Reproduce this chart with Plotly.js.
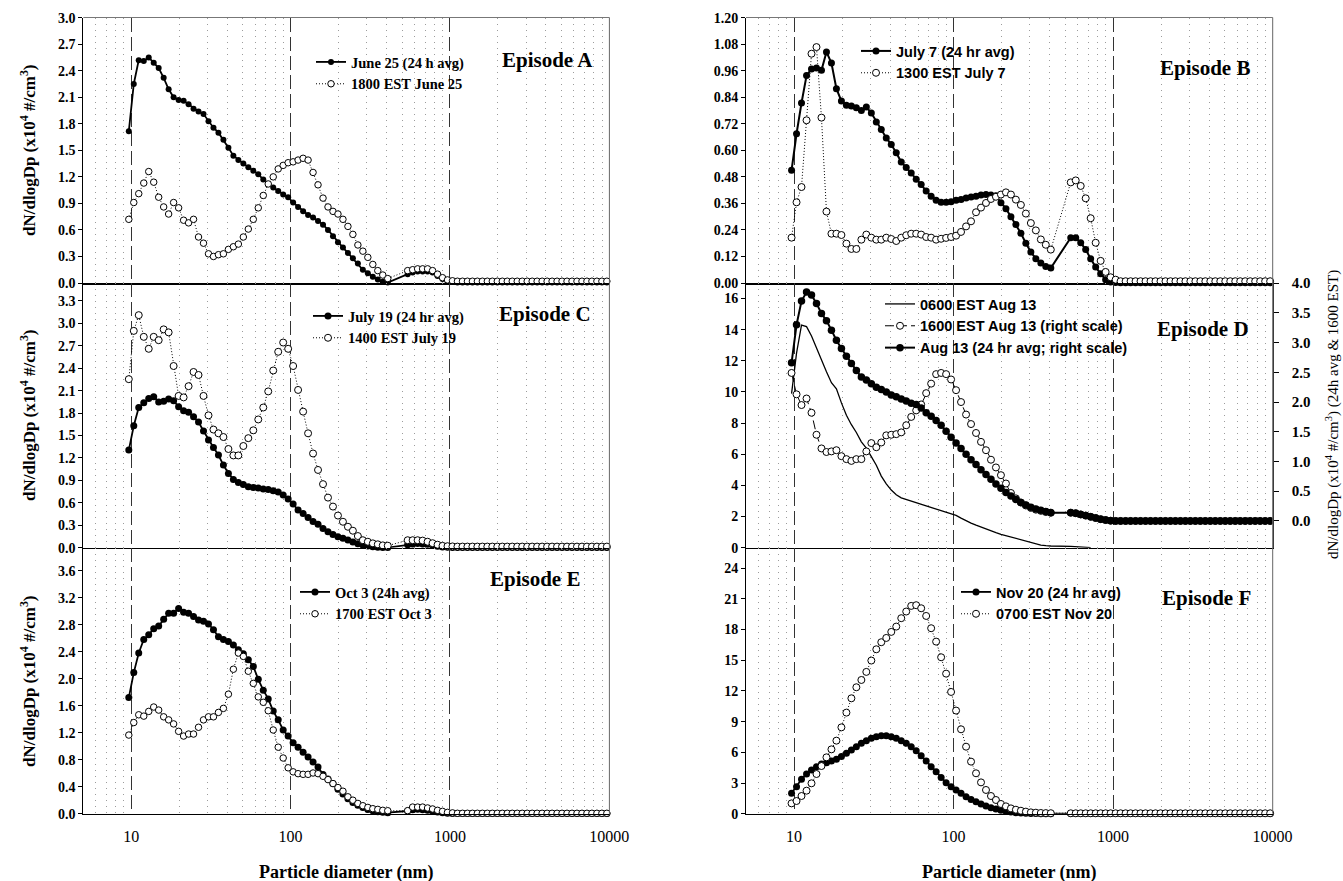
<!DOCTYPE html>
<html><head><meta charset="utf-8">
<script src="https://cdn.plot.ly/plotly-3.0.1.min.js"></script>
<style>html,body{margin:0;padding:0;background:#fff}#chart{width:1343px;height:881px}</style>
</head><body><div id="chart"></div>
<script>
// ---------- particle diameters (nm) ----------
const diamSmps = [9.65,10.37,11.14,11.98,12.87,13.83,14.86,15.97,17.16,18.44,
  19.82,21.30,22.89,24.59,26.43,28.40,30.52,32.80,35.24,37.87,
  40.70,43.73,47.00,50.50,54.27,58.32,62.67,67.35,72.37,77.77,
  83.58,89.81,96.50,103.7,111.4,119.8,128.7,138.3,148.6,159.7,
  171.6,184.4,198.2,213.0,228.9,245.9,264.3,284.0,305.2,328.0,
  352.4,378.7,407.0];
const diamOpc = [542.7,583.2,626.7,673.4,723.7,777.7,835.7,898.0,965.0,1037,
  1114,1198,1287,1383,1486,1597,1716,1844,1982,2130,
  2289,2459,2643,2840,3052,3280,3524,3787,4070,4373,
  4700,5050,5427,5832,6267,6735,7237,7777,8358,8981,
  9650];

// ---------- Episode A ----------
const aAvgSmps = [1.715,2.25,2.52,2.51,2.55,2.49,2.43,2.32,2.19,2.10,
  2.07,2.06,2.02,1.97,1.94,1.91,1.83,1.756,1.70,1.62,
  1.53,1.44,1.39,1.35,1.31,1.27,1.23,1.17,1.12,1.08,
  1.04,1.00,0.97,0.91,0.86,0.81,0.77,0.74,0.70,0.66,
  0.60,0.53,0.46,0.40,0.34,0.28,0.22,0.15,0.11,0.07,
  0.04,0.015,0.005];
const aAvgOpc = [0.10,0.12,0.13,0.13,0.13,0.12,0.08,0.045,0.02,0.01,
  0.005,0.005,0.005,0.005,0.005,0.005,0.005,0.005,0.005,0.005,
  0.005,0.005,0.005,0.005,0.005,0.005,0.005,0.005,0.005,0.005,
  0.005,0.005,0.005,0.005,0.005,0.005,0.005,0.005,0.005,0.005,
  0.005];
const aHrSmps = [0.72,0.91,1.01,1.13,1.26,1.14,0.97,0.86,0.78,0.91,
  0.85,0.71,0.68,0.72,0.52,0.45,0.33,0.30,0.32,0.33,
  0.38,0.41,0.44,0.52,0.61,0.72,0.85,0.99,1.12,1.20,
  1.29,1.33,1.36,1.37,1.39,1.41,1.39,1.25,1.11,0.96,
  0.86,0.81,0.78,0.72,0.64,0.55,0.43,0.36,0.29,0.21,
  0.14,0.09,0.05];
const aHrOpc = [0.14,0.15,0.16,0.16,0.16,0.14,0.10,0.06,0.035,0.025,
  0.02,0.02,0.02,0.02,0.02,0.02,0.02,0.02,0.02,0.02,
  0.02,0.02,0.02,0.02,0.02,0.02,0.02,0.02,0.02,0.02,
  0.02,0.02,0.02,0.02,0.02,0.02,0.02,0.02,0.02,0.02,
  0.02];

// ---------- Episode B ----------
const bAvgSmps = [0.51,0.675,0.814,0.938,0.968,0.972,0.962,1.045,0.995,0.879,
  0.823,0.804,0.80,0.793,0.78,0.796,0.769,0.728,0.694,0.656,
  0.626,0.589,0.547,0.522,0.497,0.469,0.445,0.416,0.392,0.374,
  0.365,0.365,0.368,0.374,0.378,0.384,0.389,0.392,0.398,0.40,
  0.398,0.395,0.363,0.336,0.30,0.265,0.225,0.18,0.14,0.11,
  0.09,0.075,0.068];
const bAvgOpc = [0.205,0.205,0.182,0.151,0.11,0.072,0.042,0.015,0.005,0.002,
  0.001,0.001,0.001,0.001,0.001,0.001,0.001,0.001,0.001,0.001,
  0.001,0.001,0.001,0.001,0.001,0.001,0.001,0.001,0.001,0.001,
  0.001,0.001,0.001,0.001,0.001,0.001,0.001,0.001,0.001,0.001,
  0.001];
const bHrSmps = [0.205,0.365,0.434,0.736,1.037,1.067,0.748,0.323,0.223,0.223,
  0.217,0.178,0.154,0.154,0.196,0.219,0.205,0.196,0.196,0.205,
  0.199,0.19,0.205,0.216,0.223,0.223,0.219,0.208,0.205,0.196,
  0.20,0.204,0.208,0.214,0.231,0.256,0.279,0.32,0.341,0.362,
  0.38,0.39,0.40,0.41,0.40,0.377,0.353,0.314,0.271,0.238,
  0.197,0.173,0.151];
const bHrOpc = [0.455,0.464,0.439,0.383,0.293,0.182,0.10,0.05,0.026,0.015,
  0.008,0.008,0.008,0.008,0.008,0.008,0.008,0.008,0.008,0.008,
  0.008,0.008,0.008,0.008,0.008,0.008,0.008,0.008,0.008,0.008,
  0.008,0.008,0.008,0.008,0.008,0.008,0.008,0.008,0.008,0.008,
  0.008];

// ---------- Episode C ----------
const cAvgSmps = [1.305,1.63,1.875,1.94,1.996,2.02,1.95,1.96,1.99,1.965,
  1.885,1.83,1.81,1.75,1.68,1.56,1.44,1.34,1.24,1.105,
  0.993,0.913,0.873,0.846,0.815,0.806,0.797,0.784,0.78,0.762,
  0.744,0.704,0.65,0.584,0.503,0.459,0.405,0.352,0.312,0.258,
  0.214,0.178,0.147,0.125,0.102,0.076,0.053,0.036,0.022,0.013,
  0.005,0.003,0.002];
const cAvgOpc = [0.04,0.05,0.055,0.05,0.045,0.035,0.02,0.01,0.005,0.003,
  0.002,0.002,0.002,0.002,0.002,0.002,0.002,0.002,0.002,0.002,
  0.002,0.002,0.002,0.002,0.002,0.002,0.002,0.002,0.002,0.002,
  0.002,0.002,0.002,0.002,0.002,0.002,0.002,0.002,0.002,0.002,
  0.002];
const cHrSmps = [2.254,2.90,3.11,2.82,2.66,2.82,2.775,2.92,2.88,2.43,
  2.03,2.01,2.16,2.35,2.31,2.03,1.77,1.58,1.53,1.48,
  1.32,1.234,1.234,1.36,1.465,1.57,1.715,1.875,2.09,2.37,
  2.62,2.744,2.66,2.43,2.11,1.82,1.53,1.26,1.04,0.85,
  0.67,0.55,0.43,0.347,0.28,0.227,0.156,0.10,0.08,0.058,
  0.045,0.031,0.027];
const cHrOpc = [0.10,0.10,0.10,0.095,0.08,0.06,0.04,0.025,0.02,0.017,
  0.015,0.015,0.015,0.015,0.015,0.015,0.015,0.015,0.015,0.015,
  0.015,0.015,0.015,0.015,0.015,0.015,0.015,0.015,0.015,0.015,
  0.015,0.015,0.015,0.015,0.015,0.015,0.015,0.015,0.015,0.015,
  0.015];

// ---------- Episode D ----------
const d0600 = [9.9,12.5,14.3,14.2,13.6,12.8,12.0,11.3,10.6,10.2,
  9.3,8.5,7.9,7.4,6.8,6.4,5.85,5.3,4.6,4.1,
  3.7,3.4,3.2,3.1,3.0,2.92,2.82,2.72,2.62,2.50,
  2.39,2.27,2.17,2.07,1.90,1.73,1.58,1.45,1.32,1.20,
  1.08,0.97,0.86,0.77,0.69,0.60,0.50,0.40,0.31,0.23,
  0.17,0.13,0.11,
  0.08,0.06,0.04,0.02,0.01];
const d1600Smps = [2.49,2.13,1.95,2.06,1.82,1.45,1.22,1.16,1.17,1.19,
  1.09,1.04,1.01,1.04,1.04,1.17,1.31,1.24,1.32,1.44,
  1.45,1.46,1.49,1.61,1.75,1.86,1.96,2.15,2.31,2.47,
  2.49,2.47,2.38,2.20,2.00,1.79,1.63,1.48,1.33,1.19,
  1.03,0.90,0.77,0.63,0.47,0.38,0.31,0.26,0.22,0.19,
  0.17,0.15,0.14];
const d1600Opc = [0.14,0.13,0.11,0.09,0.07,0.05,0.03,0.015,0.005,0.0,
  0,0,0,0,0,0,0,0,0,0,
  0,0,0,0,0,0,0,0,0,0,
  0,0,0,0,0,0,0,0,0,0,
  0];
const dAvgSmps = [2.66,3.30,3.70,3.85,3.80,3.66,3.49,3.37,3.21,3.04,
  2.90,2.77,2.65,2.53,2.42,2.37,2.31,2.25,2.21,2.17,
  2.12,2.09,2.05,2.02,1.98,1.96,1.90,1.82,1.76,1.69,
  1.61,1.51,1.41,1.31,1.22,1.12,1.03,0.95,0.86,0.78,
  0.70,0.62,0.55,0.48,0.42,0.36,0.31,0.27,0.23,0.20,
  0.18,0.16,0.14];
const dAvgOpc = [0.14,0.13,0.11,0.09,0.07,0.05,0.03,0.015,0.005,0.0,
  0,0,0,0,0,0,0,0,0,0,
  0,0,0,0,0,0,0,0,0,0,
  0,0,0,0,0,0,0,0,0,0,
  0];

// ---------- Episode E ----------
const eAvgSmps = [1.72,2.09,2.38,2.58,2.65,2.74,2.78,2.88,2.97,2.97,
  3.04,2.985,2.97,2.92,2.87,2.85,2.81,2.725,2.62,2.58,
  2.55,2.50,2.43,2.37,2.28,2.18,1.99,1.83,1.70,1.52,
  1.39,1.24,1.15,1.05,0.985,0.91,0.84,0.765,0.69,0.58,
  0.515,0.446,0.363,0.29,0.22,0.167,0.127,0.093,0.064,0.044,
  0.03,0.02,0.015];
const eAvgOpc = [0.04,0.06,0.065,0.06,0.05,0.04,0.025,0.015,0.008,0.004,
  0.002,0.002,0.002,0.002,0.002,0.002,0.002,0.002,0.002,0.002,
  0.002,0.002,0.002,0.002,0.002,0.002,0.002,0.002,0.002,0.002,
  0.002,0.002,0.002,0.002,0.002,0.002,0.002,0.002,0.002,0.002,
  0.002];
const eHrSmps = [1.165,1.35,1.465,1.445,1.515,1.58,1.535,1.435,1.39,1.33,
  1.22,1.15,1.18,1.18,1.28,1.39,1.435,1.435,1.50,1.56,
  1.77,2.14,2.38,2.33,2.11,1.93,1.73,1.65,1.525,1.24,
  0.985,0.825,0.68,0.62,0.593,0.583,0.583,0.603,0.593,0.554,
  0.505,0.446,0.387,0.333,0.25,0.20,0.152,0.118,0.093,0.074,
  0.064,0.05,0.044];
const eHrOpc = [0.045,0.098,0.098,0.098,0.085,0.07,0.05,0.035,0.02,0.012,
  0.006,0.006,0.006,0.006,0.006,0.006,0.006,0.006,0.006,0.006,
  0.006,0.006,0.006,0.006,0.006,0.006,0.006,0.006,0.006,0.006,
  0.006,0.006,0.006,0.006,0.006,0.006,0.006,0.006,0.006,0.006,
  0.006];

// ---------- Episode F ----------
const fAvgSmps = [1.99,2.64,3.36,3.88,4.27,4.60,4.86,4.99,5.15,5.31,
  5.58,5.90,6.23,6.55,6.88,7.14,7.37,7.53,7.63,7.63,
  7.53,7.37,7.14,6.88,6.55,6.16,5.67,5.15,4.60,4.11,
  3.55,3.03,2.64,2.32,1.99,1.66,1.40,1.17,0.95,0.75,
  0.59,0.46,0.33,0.23,0.16,0.10,0.07,0.04,0.02,0.01,
  0.005,0.003,0.002];
const fAvgOpc = [0.01,0.01,0.01,0.01,0.01,0.01,0.01,0.01,0.01,0.01,
  0.01,0.01,0.01,0.01,0.01,0.01,0.01,0.01,0.01,0.01,
  0.01,0.01,0.01,0.01,0.01,0.01,0.01,0.01,0.01,0.01,
  0.01,0.01,0.01,0.01,0.01,0.01,0.01,0.01,0.01,0.01,
  0.01];
const fHrSmps = [1.01,1.24,1.73,2.25,2.97,3.88,4.66,5.51,6.29,7.14,
  8.44,9.88,11.28,12.36,13.07,13.86,14.97,16.07,16.76,17.18,
  17.77,18.29,19.11,19.76,20.31,20.38,20.08,19.33,18.13,16.82,
  15.29,13.69,11.90,10.08,8.25,6.55,5.09,3.95,3.06,2.32,
  1.73,1.34,0.95,0.72,0.52,0.39,0.29,0.20,0.13,0.10,
  0.07,0.06,0.05];
const fHrOpc = [0.04,0.04,0.04,0.04,0.04,0.04,0.04,0.04,0.04,0.04,
  0.04,0.04,0.04,0.04,0.04,0.04,0.04,0.04,0.04,0.04,
  0.04,0.04,0.04,0.04,0.04,0.04,0.04,0.04,0.04,0.04,
  0.04,0.04,0.04,0.04,0.04,0.04,0.04,0.04,0.04,0.04,
  0.04];

// ---------- tick labels ----------
const xTickVals = [10,100,1000,10000];
const xTickText = ['10','100','1000','10000'];
const xMinorVals = [6,7,8,9,20,30,40,50,60,70,80,90,200,300,400,500,600,700,800,900,
  2000,3000,4000,5000,6000,7000,8000,9000];
const yTicksA = [0,0.3,0.6,0.9,1.2,1.5,1.8,2.1,2.4,2.7,3.0];
const yTicksB = [0,0.12,0.24,0.36,0.48,0.60,0.72,0.84,0.96,1.08,1.20];
const yTicksC = [0,0.3,0.6,0.9,1.2,1.5,1.8,2.1,2.4,2.7,3.0,3.3];
const yTicksD = [0,2,4,6,8,10,12,14,16];
const yTicksDR = [0,0.5,1.0,1.5,2.0,2.5,3.0,3.5,4.0];
const yTicksE = [0,0.4,0.8,1.2,1.6,2.0,2.4,2.8,3.2,3.6];
const yTicksF = [0,3,6,9,12,15,18,21,24];

// ---------- build ----------
const W = 1343, H = 881;
const px = v => v / W, py = v => 1 - v / H;
const serif = '"Liberation Serif", "Times New Roman", Times, serif';
const sans = '"Liberation Sans", Arial, Helvetica, sans-serif';
const diam = diamSmps.concat(diamOpc);
const colL = [px(83.3), px(609.4)], colR = [px(746), px(1272.7)];
const rowTop = [py(283), py(17.5)], rowMid = [py(547.7), py(283)], rowBot = [py(813.7), py(547.7)];

function avgTrace(y, name, xa, ya, leg, size, lw) {
  return {x: diam, y: y, name: name, xaxis: xa, yaxis: ya, legend: leg, type: 'scatter',
    mode: 'lines+markers', cliponaxis: false,
    line: {color: 'black', width: lw},
    marker: {color: 'black', size: size, symbol: 'circle', line: {width: 0}}};
}
function hrTrace(y, name, xa, ya, leg, size, dash) {
  return {x: diam, y: y, name: name, xaxis: xa, yaxis: ya, legend: leg, type: 'scatter',
    mode: 'lines+markers', cliponaxis: false,
    line: {color: 'black', width: 1, dash: dash || '1px,2px'},
    marker: {color: 'white', size: size, symbol: 'circle', line: {color: 'black', width: 1}}};
}

const traces = [
  avgTrace(aAvgSmps.concat(aAvgOpc), 'June 25 (24 h avg)', 'x', 'y', 'legend', 6, 1.8),
  hrTrace(aHrSmps.concat(aHrOpc), '1800 EST June 25', 'x', 'y', 'legend', 6.5),
  avgTrace(bAvgSmps.concat(bAvgOpc), 'July 7 (24 hr avg)', 'x2', 'y2', 'legend2', 7, 2),
  hrTrace(bHrSmps.concat(bHrOpc), '1300 EST July 7', 'x2', 'y2', 'legend2', 7),
  avgTrace(cAvgSmps.concat(cAvgOpc), 'July 19 (24 hr avg)', 'x3', 'y3', 'legend3', 7, 1.8),
  hrTrace(cHrSmps.concat(cHrOpc), '1400 EST July 19', 'x3', 'y3', 'legend3', 7),
  {x: diam.slice(0, d0600.length), y: d0600, name: '0600 EST Aug 13', xaxis: 'x4', yaxis: 'y4',
    legend: 'legend4', type: 'scatter', mode: 'lines', cliponaxis: false,
    line: {color: 'black', width: 1.3}},
  hrTrace(d1600Smps.concat(d1600Opc), '1600 EST Aug 13 (right scale)', 'x4', 'y7', 'legend4', 7, '9px,4px'),
  avgTrace(dAvgSmps.concat(dAvgOpc), 'Aug 13 (24 hr avg; right scale)', 'x4', 'y7', 'legend4', 7.5, 2),
  avgTrace(eAvgSmps.concat(eAvgOpc), 'Oct 3 (24h avg)', 'x5', 'y5', 'legend5', 7, 1.8),
  hrTrace(eHrSmps.concat(eHrOpc), '1700 EST Oct 3', 'x5', 'y5', 'legend5', 6.5),
  avgTrace(fAvgSmps.concat(fAvgOpc), 'Nov 20 (24 hr avg)', 'x6', 'y6', 'legend6', 7, 1.8),
  hrTrace(fHrSmps.concat(fHrOpc), '0700 EST Nov 20', 'x6', 'y6', 'legend6', 7)
];

function xAxis(dom, anchor, labels) {
  return {type: 'log', domain: dom, anchor: anchor, range: [Math.log10(5), 4.0005],
    tickmode: 'array', tickvals: xTickVals, ticktext: xTickText,
    showticklabels: labels, ticks: '', ticklabelstandoff: 8,
    tickfont: {family: serif, size: 16, color: 'black'},
    showgrid: true, gridcolor: '#333', gridwidth: 1, griddash: '14px,5px',
    minor: {tickmode: 'array', tickvals: xMinorVals, showgrid: true, gridcolor: '#9c9c9c',
      gridwidth: 1, griddash: '1px,5px', ticks: ''},
    showline: true, linecolor: 'black', linewidth: 1.5, zeroline: false, fixedrange: true};
}
function yAxis(dom, anchor, range, vals, fmt) {
  return {domain: dom, anchor: anchor, range: range, tickmode: 'array', tickvals: vals,
    tickformat: fmt, showgrid: false, zeroline: false, showline: true, linecolor: 'black',
    linewidth: 1, ticks: 'outside', ticklen: 4, tickcolor: 'black', tickwidth: 1,
    tickfont: {family: serif, size: 14, weight: 'bold', color: 'black'}, fixedrange: true};
}

const legBase = (x, y, fam, size) => ({x: px(x), y: py(y), xanchor: 'left', yanchor: 'top',
  bgcolor: 'rgba(0,0,0,0)', borderwidth: 0, tracegroupgap: 0,
  font: {family: fam, size: size, weight: 'bold', color: 'black'}});

const yTitle = 'dN/dlogDp (x10<sup>4</sup> #/cm<sup>3</sup>)';
function ann(text, x, y, font, extra) {
  return Object.assign({text: text, x: px(x), y: py(y), xref: 'paper', yref: 'paper',
    showarrow: false, xanchor: 'center', yanchor: 'middle', font: font}, extra || {});
}
const epFont = {family: serif, size: 21, weight: 'bold', color: 'black'};

const layout = {
  width: W, height: H, margin: {l: 0, r: 0, t: 0, b: 0},
  paper_bgcolor: 'white', plot_bgcolor: 'white',
  font: {family: serif, color: 'black'}, showlegend: true,
  xaxis: xAxis(colL, 'y', false),
  xaxis2: xAxis(colR, 'y2', false),
  xaxis3: xAxis(colL, 'y3', false),
  xaxis4: xAxis(colR, 'y4', false),
  xaxis5: xAxis(colL, 'y5', true),
  xaxis6: xAxis(colR, 'y6', true),
  yaxis: yAxis(rowTop, 'x', [0, 3.002], yTicksA, '.1f'),
  yaxis2: yAxis(rowTop, 'x2', [0, 1.2008], yTicksB, '.2f'),
  yaxis3: yAxis(rowMid, 'x3', [0, 3.54], yTicksC, '.1f'),
  yaxis4: yAxis(rowMid, 'x4', [0, 17], yTicksD, 'd'),
  yaxis5: yAxis(rowBot, 'x5', [0, 3.94], yTicksE, '.1f'),
  yaxis6: yAxis(rowBot, 'x6', [0, 26], yTicksF, 'd'),
  yaxis7: Object.assign(yAxis(rowMid, 'x4', [-0.45, 4.003], yTicksDR, '.1f'),
    {overlaying: 'y4', side: 'right', linecolor: '#333', ticklen: 5, ticklabelstandoff: 10,
     tickfont: {family: serif, size: 15, weight: 'bold', color: 'black'}}),
  legend: legBase(311, 46, serif, 14.5),
  legend2: legBase(856, 35, sans, 14.5),
  legend3: legBase(308, 300, serif, 14.5),
  legend4: legBase(880, 288, sans, 14.5),
  legend5: legBase(295, 576, serif, 14.5),
  legend6: legBase(956, 576, sans, 14.5),
  shapes: [
    {type: 'line', xref: 'paper', yref: 'paper', x0: colL[0], x1: colL[1], y0: rowTop[1], y1: rowTop[1], line: {color: '#777', width: 1}},
    {type: 'line', xref: 'paper', yref: 'paper', x0: colR[0], x1: colR[1], y0: rowTop[1], y1: rowTop[1], line: {color: '#777', width: 1}},
    {type: 'line', xref: 'paper', yref: 'paper', x0: colL[1], x1: colL[1], y0: rowBot[0], y1: rowTop[1], line: {color: '#666', width: 1}},
    {type: 'line', xref: 'paper', yref: 'paper', x0: colR[1], x1: colR[1], y0: rowBot[0], y1: rowTop[1], line: {color: '#666', width: 1}}
  ],
  annotations: [
    ann('Episode A', 547, 60, epFont),
    ann('Episode B', 1205, 68, epFont),
    ann('Episode C', 545, 314, epFont),
    ann('Episode D', 1203, 329, epFont),
    ann('Episode E', 535, 579, epFont),
    ann('Episode F', 1206, 598, epFont),
    ann(yTitle, 28, 150, {family: serif, size: 17, weight: 'bold', color: 'black'}, {textangle: -90}),
    ann(yTitle, 28, 415, {family: serif, size: 17, weight: 'bold', color: 'black'}, {textangle: -90}),
    ann(yTitle, 28, 681, {family: serif, size: 17, weight: 'bold', color: 'black'}, {textangle: -90}),
    ann('dN/dlogDp (x10<sup>4</sup> #/cm<sup>3</sup>) (24h avg &amp; 1600 EST)', 1333, 415,
      {family: serif, size: 15, color: 'black'}, {textangle: -90}),
    ann('Particle diameter (nm)', 346, 872, {family: serif, size: 18, weight: 'bold', color: 'black'}),
    ann('Particle diameter (nm)', 1009, 872, {family: serif, size: 18, weight: 'bold', color: 'black'})
  ]
};

Plotly.newPlot('chart', traces, layout, {displayModeBar: false, staticPlot: true});
</script>
</body></html>
